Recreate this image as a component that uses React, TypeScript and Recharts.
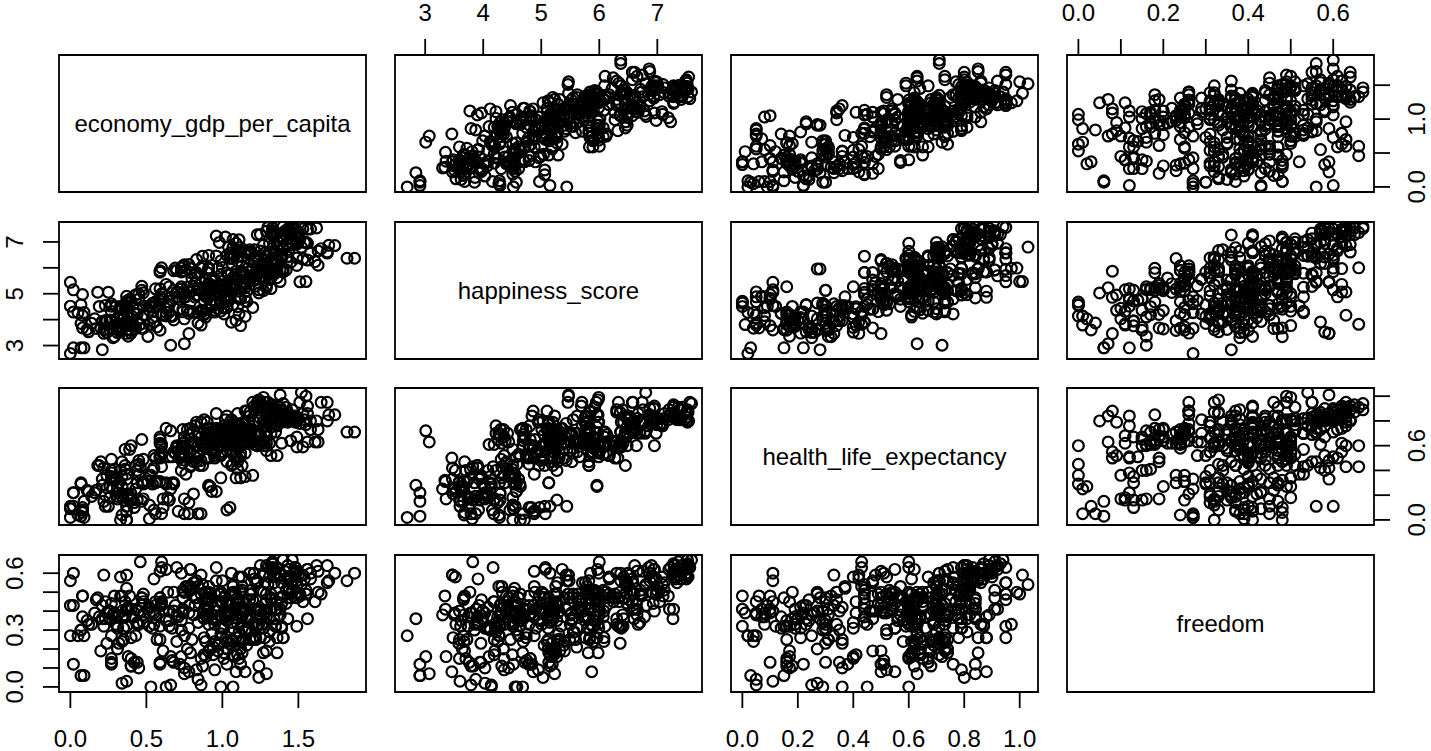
import { ScatterChart, Scatter, XAxis, YAxis, ReferenceArea } from 'recharts';

const gdpA = [1.40,1.30,1.33,1.46,1.33,1.29,1.33,1.33,1.25,1.33,1.23,.96,1.34,1.02,1.39,.98,1.56,1.34,1.31,1.43];
const scoreA = [7.59,7.56,7.53,7.52,7.43,7.41,7.38,7.36,7.29,7.28,7.28,7.23,7.20,7.19,7.12,6.98,6.95,6.94,6.94,6.90];
const healthA = [.94,.95,.87,.89,.91,.89,.89,.91,.92,.93,.91,.86,.89,.81,.86,.70,.92,.90,.90,.81];
const freedomA = [.67,.63,.65,.67,.63,.64,.62,.66,.64,.65,.41,.63,.62,.48,.55,.49,.62,.62,.58,.64];

const gdpB = [1.27,1.36,1.04,1.52,1.07,1.33,1.10,1.69,1.28,1.05,1.18,1.06,.91,.96,1.39,1.23,1.21,1.29,1.56,.99];
const scoreB = [6.87,6.85,6.81,6.80,6.79,6.75,6.67,6.61,6.58,6.57,6.51,6.49,6.48,6.46,6.41,6.33,6.30,6.30,6.30,6.27];
const healthB = [.90,.76,.72,1.03,.70,.89,.86,.80,.95,.79,.84,.81,.70,.74,.62,.95,.89,.87,.63,.60];
const freedomB = [.60,.63,.43,.54,.53,.61,.33,.64,.55,.45,.46,.60,.53,.56,.32,.32,.60,.33,.36,.49];

const gdpC = [1.21,.78,.75,.60,1.17,1.27,1.24,.86,1.32,1.25,.68,.59,.75,1.12,1.18,1.14,.59,.90,1.03,1.13];
const scoreC = [6.17,6.13,6.12,6.00,5.99,5.99,5.98,5.98,5.96,5.95,5.89,5.89,5.88,5.86,5.85,5.83,5.83,5.82,5.81,5.79];
const healthC = [.61,.69,.54,.60,.79,.99,.97,.79,.75,.95,.55,.62,.67,.54,.87,.72,.65,.74,.74,.78];
const freedomC = [.57,.43,.50,.66,.31,.50,.33,.49,.46,.26,.50,.32,.50,.41,.60,.25,.47,.41,.37,.53];

const gdpD = [1.13,1.09,1.13,1.13,.82,1.20,1.21,.94,.80,.95,1.00,1.38,1.15,.82,.63,1.06,.47,.65,.77,1.02];
const scoreD = [5.77,5.76,5.75,5.72,5.71,5.70,5.69,5.61,5.59,5.55,5.48,5.47,5.43,5.40,5.36,5.33,5.29,5.27,5.25,5.21];
const healthD = [.72,.78,.71,.66,.76,.95,.92,.62,.63,.54,.70,1.01,.78,.63,.74,.74,.65,.16,.57,.64];
const freedomD = [.51,.26,.42,.37,.55,.46,.41,.21,.25,.49,.56,.59,.41,.47,.62,.25,.43,.35,.53,.37];

const gdpE = [.59,.90,.97,.90,.47,1.04,.92,1.16,1.11,.70,.18,.74,.91,.08,.88,.83,.37,.89,.59,.82];
const scoreE = [5.19,5.19,5.19,5.14,5.13,5.12,5.12,5.10,5.10,5.07,5.06,5.01,5.01,4.97,4.96,4.95,4.90,4.89,4.88,4.87];
const healthE = [.51,.69,.73,.79,.30,.77,.74,.88,.73,.60,.44,.60,.73,.10,.81,.79,.07,.65,.50,.60];
const freedomE = [.12,.40,.19,.44,.47,.38,.20,.37,.24,.63,.47,.41,.33,.48,.36,.09,.41,.50,.61,.43];

const gdpF = [.71,1.15,1.03,1.12,.60,.39,.88,.59,.40,1.03,.79,.99,.92,.54,.27,.07,.65,.53,.27,0];
const scoreF = [4.87,4.86,4.84,4.80,4.79,4.79,4.74,4.72,4.69,4.69,4.68,4.68,4.64,4.63,4.61,4.57,4.57,4.55,4.52,4.52];
const healthF = [.07,.88,.84,.76,.61,.57,.73,.67,.60,.69,.74,.60,.27,.29,.33,.29,.51,.36,.38,.09];
const freedomF = [.37,.08,.12,.12,.43,.48,.26,.13,.41,.24,.18,0,.49,.40,.27,.30,.40,0,.12,.43];

const gdpG = [.36,.19,.33,.45,.36,.44,.77,.99,.27,.74,.02,.84,.42,1.01,.88,.54,.75,.26,.68,.24];
const scoreG = [4.51,4.51,4.51,4.44,4.42,4.37,4.35,4.33,4.31,4.30,4.29,4.27,4.25,4.22,4.19,4.08,4.03,3.99,3.99,3.96];
const healthG = [.57,.44,0,.36,.41,.30,.73,.34,.49,.73,.22,.70,.14,.76,.61,.40,.17,.18,.29,.36];
const freedomG = [.38,.37,.48,.10,.45,.33,.20,.50,.44,.39,.43,.53,.37,.31,.17,.31,.10,.36,.40,.23];

const gdpH = [.21,.36,1.06,.07,.46,.29,.20,.08,.34,.17,.47,.26,.32,.22,.29,.66,.02,.21];
const scoreH = [3.93,3.90,3.90,3.85,3.82,3.78,3.68,3.68,3.67,3.66,3.66,3.59,3.58,3.47,3.34,3.01,2.91,2.84];
const healthH = [.33,.44,.44,.30,.43,.41,.47,.06,.04,.24,.15,.27,.30,.42,.32,.72,.22,.28];
const freedomH = [.43,.37,.34,.30,.66,.39,.19,.48,.24,.46,.47,.40,.23,.59,.48,.16,.12,.36];

const gdpI = [1.44,1.53,1.43,1.58,1.41,1.44,1.46,1.36,1.44,1.45,1.34,1.46,1.51,1.07,1.36,1.45,1.09,1.42,1.49,1.70];
const scoreI = [7.53,7.51,7.50,7.50,7.41,7.40,7.34,7.33,7.31,7.29,7.27,7.12,7.10,7.09,7.04,6.99,6.95,6.93,6.91,6.87];
const healthI = [.80,.86,.87,.80,.81,.83,.81,.83,.85,.83,.84,.82,.78,.76,.77,.81,.60,.82,.81,.85];
const freedomI = [.58,.59,.57,.60,.57,.57,.55,.58,.57,.58,.36,.51,.48,.54,.45,.49,.40,.44,.50,.56];

const gdpJ = [1.12,1.65,1.40,1.21,1.18,1.15,1.31,1.58,1.19,1.30,1.03,1.39,1.08,1.49,1.39,1.82,1.35,1.05,.83,1.10];
const scoreJ = [6.78,6.74,6.73,6.70,6.70,6.65,6.60,6.57,6.55,6.49,6.48,6.48,6.47,6.38,6.38,6.37,6.36,6.36,6.32,6.27];
const healthJ = [.71,.95,.80,.79,.70,.70,.78,.73,.73,.82,.60,.84,.67,.59,.79,.71,.87,.62,.50,.50];
const freedomJ = [.37,.49,.48,.34,.49,.41,.36,.57,.51,.54,.44,.44,.50,.32,.31,.56,.32,.23,.47,.47];

const gdpK = [1.61,1.45,1.32,1.13,1.28,.87,1.25,.69,.73,1.36,.97,.91,1.38,1.23,.70,1.23,1.24,1.36,.79,1.27];
const scoreK = [6.24,6.22,6.17,6.08,6.08,6.07,6.01,5.99,5.99,5.98,5.98,5.96,5.92,5.92,5.90,5.86,5.84,5.84,5.82,5.81];
const healthK = [.63,.64,.52,.62,.71,.60,.61,.54,.51,.85,.60,.27,.91,.60,.58,.60,.70,.88,.44,.62];
const freedomK = [.45,.47,.49,.24,.26,.37,.40,.43,.60,.18,.40,.50,.47,.37,.24,.33,.41,.26,.51,.18];

const gdpL = [1.13,1.31,1.29,.99,1.08,1.14,1.07,1.22,1.31,.89,1.17,1.28,.89,1.18,1.51,0,.91,1.16,.95,.93];
const scoreL = [5.80,5.77,5.77,5.74,5.66,5.65,5.62,5.56,5.55,5.54,5.53,5.52,5.51,5.49,5.46,5.44,5.40,5.39,5.31,5.30];
const healthL = [.66,.84,.79,.61,.51,.62,.55,.64,.81,.58,.69,.70,.68,.71,.95,.11,.50,.62,.50,.63];
const freedomL = [.31,.37,.49,.37,.42,.45,.31,.26,.29,.47,.35,.39,.38,.25,.49,.56,.19,.22,.40,.28];

const gdpM = [1.12,.81,1.03,.85,.56,1.03,.94,1.08,1.03,.84,1.24,.68,1.01,1.27,1.02,.74,.25,.97,1.24,.45];
const scoreM = [5.29,5.28,5.25,5.20,5.19,5.18,5.16,5.16,5.16,5.15,5.15,5.13,5.13,5.12,5.12,5.06,5.06,5.05,5.03,4.99];
const healthM = [.51,.47,.73,.44,.50,.64,.64,.60,.47,.60,.68,.30,.64,.79,.68,.62,.11,.69,.80,.48];
const freedomM = [.39,.55,.44,.44,.43,.20,.17,.16,.40,.34,.11,.13,.18,.31,.25,.47,.40,.22,.05,.40];

const gdpN = [.99,.76,.75,.70,1.11,.61,.45,.67,.96,.55,.37,1.07,.93,.52,.30,1.03,.97,.74,.34,.95];
const scoreN = [4.91,4.88,4.88,4.87,4.81,4.79,4.79,4.75,4.66,4.64,4.64,4.58,4.57,4.51,4.51,4.46,4.42,4.40,4.40,4.36];
const healthN = [.55,.37,.05,.59,.60,.10,.45,.51,.73,.52,0,.45,.23,.12,.34,.08,.70,.46,.47,.52];
const freedomN = [.31,.53,.27,.38,.15,.41,.33,.14,.35,.39,.32,0,.36,.32,.33,.39,.43,.40,.48,.09];

const gdpO = [.86,.52,.87,.63,.05,.89,.78,.44,1.11,.61,.35,.08,.63,1.15,.31,.34,1.09,.27,.55,.55];
const scoreO = [4.36,4.36,4.32,4.28,4.27,4.25,4.24,4.22,4.22,4.20,4.19,4.16,4.14,4.12,4.07,4.03,3.97,3.96,3.92,3.91];
const healthO = [.67,.36,.62,.30,.04,.65,.14,.40,.70,.17,.16,.08,.29,.35,.19,.27,.34,.35,.08,.42];
const freedomO = [.15,.42,.11,.35,.27,.24,.31,.34,.29,.19,.25,.37,0,.30,.31,.02,.46,.13,.33,.57];

const gdpP = [.84,.14,.40,.42,.31,.34,.57,.27,.48,.11,.22,.33,.40,.38,.28,.75,.07];
const scoreP = [3.87,3.86,3.83,3.76,3.74,3.74,3.72,3.70,3.67,3.62,3.61,3.52,3.48,3.36,3.30,3.07,2.91];
const healthP = [.05,.19,.16,.10,.17,.19,.31,.40,.31,.24,.15,.40,.21,.17,.25,.63,.03];
const freedomP = [.04,.33,.11,.13,.32,.37,.25,.15,.38,.35,.32,.58,.26,.16,.38,.07,.06];

const gdpQ = [1.62,1.48,1.48,1.56,1.44,1.50,1.48,1.41,1.49,1.48,1.38,1.11,1.49,1.55,1.54,1.49,1.46,1.74,1.44,1.25];
const scoreQ = [7.54,7.52,7.50,7.49,7.47,7.38,7.32,7.31,7.28,7.28,7.21,7.08,7.01,6.99,6.98,6.95,6.89,6.86,6.71,6.65];
const healthQ = [.80,.79,.83,.86,.81,.81,.83,.82,.83,.84,.84,.76,.82,.77,.81,.80,.81,.85,.80,.82];
const freedomQ = [.64,.63,.63,.62,.62,.59,.61,.61,.61,.60,.41,.58,.53,.51,.57,.56,.50,.60,.51,.38];

const gdpR = [1.63,1.11,1.35,1.19,1.15,1.69,1.34,1.22,.87,1.23,1.43,1.13,1.43,1.38,1.87,1.07,1.53,1.36,1.63,1.35];
const scoreR = [6.65,6.64,6.61,6.60,6.58,6.57,6.53,6.45,6.45,6.45,6.44,6.42,6.42,6.40,6.37,6.36,6.34,6.17,6.10,6.10];
const healthR = [.73,.60,.77,.71,.71,.95,.82,.69,.44,.71,.84,.67,.79,.89,.71,.60,.59,.52,.63,.71];
const freedomR = [.61,.44,.41,.49,.41,.55,.59,.55,.54,.56,.47,.58,.36,.38,.60,.50,.45,.58,.50,.32];

const gdpS = [1.49,1.29,.74,1.00,.91,1.29,.79,1.40,1.29,.91,1.42,1.31,1.09,1.26,1.40,.73,1.22,.83,1.13,1.28];
const scoreS = [6.09,6.08,6.07,6.01,6.00,5.97,5.97,5.96,5.96,5.96,5.92,5.90,5.87,5.85,5.84,5.84,5.83,5.82,5.82,5.82];
const healthS = [.67,.62,.53,.60,.60,.70,.55,.85,.56,.28,.91,.62,.55,.63,.88,.52,.69,.47,.44,.60];
const freedomS = [.47,.40,.51,.45,.38,.46,.62,.26,.37,.47,.51,.24,.08,.33,.26,.30,.46,.56,.49,.44];

const gdpT = [1.35,1.34,1.04,1.19,1.36,1.32,1.16,1.10,1.20,.93,1.55,.86,1.07,.99,1.29,.93,1.22,.95,1.08,.73];
const scoreT = [5.81,5.76,5.72,5.63,5.62,5.61,5.57,5.53,5.50,5.49,5.47,5.43,5.40,5.34,5.32,5.31,5.29,5.28,5.27,5.27];
const healthT = [.83,.83,.62,.64,.84,.70,.63,.47,.63,.56,1.0,.48,.68,.61,.68,.65,.70,.61,.72,.40];
const freedomT = [.41,.55,.40,.49,.41,.47,.29,.36,.33,.47,.49,.59,.24,.32,.19,.45,.25,.24,.49,.16];

const gdpU = [.99,1.13,1.12,.88,1.15,1.08,1.29,1.07,1.32,.98,.73,1.06,.02,.79,.78,.48,.89,.60,.43,1.03];
const scoreU = [5.26,5.25,5.24,5.23,5.23,5.23,5.23,5.22,5.20,5.18,5.18,5.17,5.15,5.07,5.07,5.04,5.01,5.00,4.96,4.96];
const healthU = [.60,.61,.67,.60,.54,.61,.84,.71,.79,.71,.58,.61,.11,.62,.05,.49,.50,.55,.44,.56];
const freedomU = [.45,.18,.20,.41,.40,.49,.07,.17,.41,.23,.35,.38,.60,.62,.39,.49,.50,.44,.41,.35];

const gdpV = [1.05,1.01,.72,.99,1.16,.37,.56,1.16,.99,.59,.96,.56,.23,.37,.48,.64,1.10,1.20,.34,1.01];
const scoreV = [4.83,4.81,4.78,4.74,4.71,4.71,4.69,4.69,4.64,4.61,4.57,4.55,4.55,4.54,4.53,4.51,4.50,4.47,4.46,4.44];
const healthV = [.10,.65,.50,.52,.66,0,.05,.64,.73,.53,.23,.30,.11,.37,.29,.18,.41,.36,.35,.63];
const freedomV = [.39,.15,.12,.28,.37,.41,.38,.36,.38,.47,.43,.45,.45,.52,.34,.50,.17,.25,.40,.47];

const gdpW = [.90,.79,.65,.81,.95,.09,.48,.60,.60,.66,.67,.89,.38,.35,.16,.23,.44,.38,.52,.86];
const scoreW = [4.38,4.32,4.29,4.29,4.29,4.28,4.19,4.18,4.17,4.14,4.12,4.10,4.08,4.03,4.03,3.97,3.94,3.88,3.81,3.79];
const healthW = [.64,.43,.16,.21,.69,.02,.17,.05,.43,.25,.30,.61,.21,.21,.22,.20,.16,.19,.01,.05];
const freedomW = [.37,.53,.32,.38,.33,.27,.45,.45,.63,.01,.31,.16,.42,.31,.39,.36,.13,.41,.39,.01];

const gdpX = [.40,1.12,.43,.31,.37,.59,.40,.12,.24,.31,.37,.78,.51,.09,0];
const scoreX = [3.79,3.77,3.66,3.64,3.60,3.59,3.59,3.53,3.51,3.50,3.47,3.46,3.35,2.91,2.69];
const healthX = [.18,.34,.25,.27,.11,.31,.16,.23,.26,.25,.33,.50,.31,.15,.02];
const freedomX = [.11,.50,.27,.20,.03,.25,.15,.33,.39,.38,.59,.08,.41,.06,.27];

const gdpAll = [gdpA,gdpB,gdpC,gdpD,gdpE,gdpF,gdpG,gdpH,gdpI,gdpJ,gdpK,gdpL,gdpM,gdpN,gdpO,gdpP,gdpQ,gdpR,gdpS,gdpT,gdpU,gdpV,gdpW,gdpX].flat();
const scoreAll = [scoreA,scoreB,scoreC,scoreD,scoreE,scoreF,scoreG,scoreH,scoreI,scoreJ,scoreK,scoreL,scoreM,scoreN,scoreO,scoreP,scoreQ,scoreR,scoreS,scoreT,scoreU,scoreV,scoreW,scoreX].flat();
const healthAll = [healthA,healthB,healthC,healthD,healthE,healthF,healthG,healthH,healthI,healthJ,healthK,healthL,healthM,healthN,healthO,healthP,healthQ,healthR,healthS,healthT,healthU,healthV,healthW,healthX].flat();
const freedomAll = [freedomA,freedomB,freedomC,freedomD,freedomE,freedomF,freedomG,freedomH,freedomI,freedomJ,freedomK,freedomL,freedomM,freedomN,freedomO,freedomP,freedomQ,freedomR,freedomS,freedomT,freedomU,freedomV,freedomW,freedomX].flat();

const rows = gdpAll.map((g, i) => ({ gdp: g, score: scoreAll[i], health: healthAll[i], freedom: freedomAll[i] }));

const variables = [
  { key: 'gdp', name: 'economy_gdp_per_capita', domain: [-0.0748, 1.945], ticks: [0, 0.5, 1, 1.5], xLabels: [0, 0.5, 1, 1.5], yLabels: [0, 1], digits: 1 },
  { key: 'score', name: 'happiness_score', domain: [2.48, 7.77], ticks: [3, 4, 5, 6, 7], xLabels: [3, 4, 5, 6, 7], yLabels: [3, 5, 7], digits: 0 },
  { key: 'health', name: 'health_life_expectancy', domain: [-0.041, 1.066], ticks: [0, 0.2, 0.4, 0.6, 0.8, 1], xLabels: [0, 0.2, 0.4, 0.6, 0.8, 1], yLabels: [0, 0.6], digits: 1 },
  { key: 'freedom', name: 'freedom', domain: [-0.0268, 0.696], ticks: [0, 0.1, 0.2, 0.3, 0.4, 0.5, 0.6], xLabels: [0, 0.2, 0.4, 0.6], yLabels: [0, 0.3, 0.6], digits: 1 },
];

const colLeft = [59, 395, 731, 1067];
const rowTop = [55, 221.5, 388, 554.5];
const panelW = 307;
const panelH = 137;
const topH = 55;
const bottomH = 60;
const leftW = 59;
const rightW = 57;
const pad = 30; // room so axis text at the panel ends is not cut off
const font = '"Liberation Sans", Arial, sans-serif';

const ring = (p: any) => <circle cx={p.cx} cy={p.cy} r={5.4} fill="none" stroke="#000" strokeWidth={2.2} />;

function AxisLabel({ x, y, payload, labels, digits, side }: any) {
  if (!labels.includes(payload.value)) return <g />;
  const text = payload.value.toFixed(digits);
  if (side === 'top' || side === 'bottom') {
    return (
      <text x={x} y={side === 'top' ? y - 27 : y + 30} textAnchor="middle" dominantBaseline="central" fontSize={24} fontFamily={font} fill="#000">
        {text}
      </text>
    );
  }
  const tx = side === 'left' ? x - 28 : x + 27;
  return (
    <text x={tx} y={y} transform={`rotate(-90 ${tx} ${y})`} textAnchor="middle" dominantBaseline="central" fontSize={24} fontFamily={font} fill="#000">
      {text}
    </text>
  );
}

function Panel({ r, c }: { r: number; c: number }) {
  const xv = variables[c];
  const yv = variables[r];
  const diag = r === c;
  const xSide = r === 0 && (c === 1 || c === 3) ? 'top' : r === 3 && (c === 0 || c === 2) ? 'bottom' : null;
  const ySide = c === 0 && (r === 1 || r === 3) ? 'left' : c === 3 && (r === 0 || r === 2) ? 'right' : null;
  const offT = xSide === 'top' ? topH : 0;
  const offB = xSide === 'bottom' ? bottomH : 0;
  const offL = ySide === 'left' ? leftW : 0;
  const offR = ySide === 'right' ? rightW : 0;
  return (
    <div style={{ position: 'absolute', left: colLeft[c] - offL - pad, top: rowTop[r] - offT - pad }}>
      <ScatterChart
        width={panelW + offL + offR + pad * 2}
        height={panelH + offT + offB + pad * 2}
        margin={{ top: pad, right: pad, bottom: pad, left: pad }}
      >
        <XAxis
          xAxisId={0}
          type="number"
          dataKey={xv.key}
          domain={xv.domain}
          allowDataOverflow
          hide={!xSide}
          orientation={xSide === 'top' ? 'top' : 'bottom'}
          height={xSide === 'top' ? topH : bottomH}
          ticks={xv.ticks}
          interval={0}
          axisLine={false}
          tickSize={16}
          tickMargin={0}
          tickLine={{ stroke: '#000', strokeWidth: 1.8 }}
          tick={<AxisLabel labels={xv.xLabels} digits={xv.digits} side={xSide} />}
        />
        <YAxis
          yAxisId={0}
          type="number"
          dataKey={yv.key}
          domain={yv.domain}
          allowDataOverflow
          hide={!ySide}
          orientation={ySide === 'right' ? 'right' : 'left'}
          width={ySide === 'right' ? rightW : leftW}
          ticks={yv.ticks}
          interval={0}
          axisLine={false}
          tickSize={16}
          tickMargin={0}
          tickLine={{ stroke: '#000', strokeWidth: 1.8 }}
          tick={<AxisLabel labels={yv.yLabels} digits={yv.digits} side={ySide} />}
        />
        <ReferenceArea
          x1={xv.domain[0]}
          x2={xv.domain[1]}
          y1={yv.domain[0]}
          y2={yv.domain[1]}
          fill="none"
          stroke="#000"
          strokeWidth={1.8}
          label={diag ? { value: xv.name, position: 'center', fontSize: 24, fontFamily: font, fill: '#000' } : undefined}
        />
        {!diag && <Scatter data={rows} shape={ring} isAnimationActive={false} />}
      </ScatterChart>
    </div>
  );
}

export default function App() {
  return (
    <div style={{ position: 'absolute', left: 0, top: 0, width: 1431, height: 751, background: '#fff', overflow: 'hidden' }}>
      {[0, 1, 2, 3].flatMap((r) => [0, 1, 2, 3].map((c) => <Panel key={`${r}-${c}`} r={r} c={c} />))}
    </div>
  );
}
